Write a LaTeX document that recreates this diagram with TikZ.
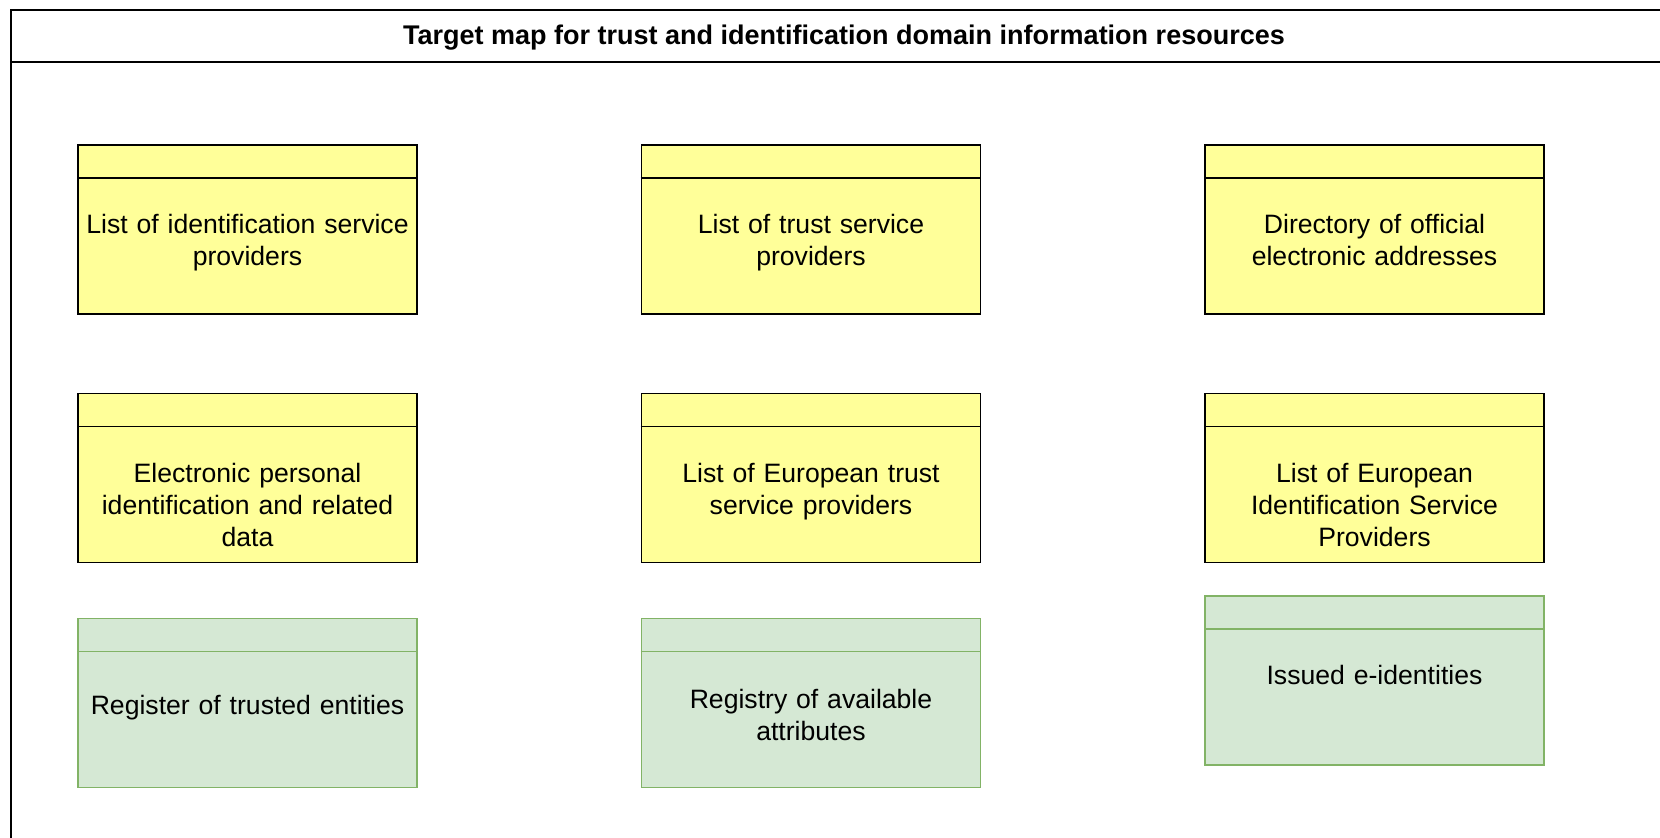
\documentclass[tikz,border=0pt]{standalone}
\usepackage{fontspec}
\setmainfont{Liberation Sans}
\definecolor{yfill}{HTML}{FFFF99}
\definecolor{gfill}{HTML}{D5E8D4}
\definecolor{gline}{HTML}{82B366}
\begin{document}
\begin{tikzpicture}[x=0.5pt,y=-0.5pt,
  box/.style={line width=0.8pt, minimum width=169.5pt, minimum height=84.5pt, inner sep=0pt},
  ybox/.style={box, draw=black, fill=yfill},
  gbox/.style={box, draw=gline, fill=gfill},
  yhdr/.style={line width=0.8pt, draw=black},
  ghdr/.style={line width=0.8pt, draw=gline},
  lbl/.style={font=\fontsize{13.3}{16}\selectfont, align=center, inner sep=0pt, anchor=north, text width=168pt},
  frame/.style={line width=0.8pt, draw=black}]
\useasboundingbox (0,0) rectangle (1660,838);
\draw[frame] (11,838) -- (11,10) -- (1660,10);
\draw[frame] (11,62) -- (1660,62);
\node[font=\bfseries\fontsize{13.5}{16}\selectfont, inner sep=0pt] (title) at (844,38) {Target map for trust and identification domain information resources};

% row 1
\node[ybox] (b1) at (247.5,229.5) {};
\node[ybox] (b2) at (811,229.5) {};
\node[ybox] (b3) at (1374.5,229.5) {};
% row 2
\node[ybox] (b4) at (247.5,478) {};
\node[ybox] (b5) at (811,478) {};
\node[ybox] (b6) at (1374.5,478) {};
% row 3
\node[gbox] (b7) at (247.5,703) {};
\node[gbox] (b8) at (811,703) {};
\node[gbox] (b9) at (1374.5,680.5) {};

\foreach \b in {b1,b2,b3,b4,b5,b6}
  \draw[yhdr] ([yshift=-17pt]\b.north west) -- ([yshift=-17pt]\b.north east);
\foreach \b in {b7,b8,b9}
  \draw[ghdr] ([yshift=-17pt]\b.north west) -- ([yshift=-17pt]\b.north east);

\node[lbl] (t1) at (247.5,211.2) {\strut List of identification service\\providers};
\node[lbl] (t2) at (811,211.2) {\strut List of trust service\\providers};
\node[lbl] (t3) at (1374.5,211.2) {\strut Directory of official\\electronic addresses};
\node[lbl] (t4) at (247.5,460.2) {\strut Electronic personal\\identification and related\\data};
\node[lbl] (t5) at (811,460.2) {\strut List of European trust\\service providers};
\node[lbl] (t6) at (1374.5,460.2) {\strut List of European\\Identification Service\\Providers};
\node[lbl] (t7) at (247.5,692.2) {\strut Register of trusted entities};
\node[lbl] (t8) at (811,686.2) {\strut Registry of available\\attributes};
\node[lbl] (t9) at (1374.5,662.2) {\strut Issued e-identities};
\end{tikzpicture}
\end{document}
